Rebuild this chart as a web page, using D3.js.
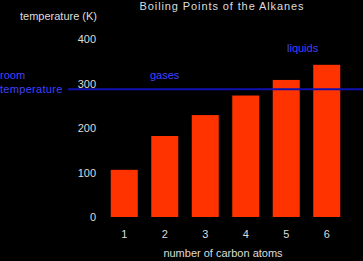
<!DOCTYPE html>
<html>
<head>
<meta charset="utf-8">
<script src="https://cdn.jsdelivr.net/npm/d3@7"></script>
<style>
  body { margin: 0; background: #000; }
  svg { display: block; }
  text { font-family: "Liberation Sans", Arial, sans-serif; font-size: 11px; }
</style>
</head>
<body>
<div id="chart"></div>
<script>
// -----------------------
// Data
// -----------------------
const carbons = ["1", "2", "3", "4", "5", "6"];
const boilingK = [106, 182, 229, 273, 308, 342];
const yTicks = [0, 100, 200, 300, 400];
const roomTemp = 287;

const width = 363;
const height = 261;

const svg = d3.select("#chart")
  .append("svg")
  .attr("width", width)
  .attr("height", height)
  .style("background", "#000");

const x = d3.scaleBand()
  .domain(carbons)
  .range([104, 347])
  .paddingInner(0.333)
  .paddingOuter(0.167);

const y = d3.scaleLinear()
  .domain([0, 400])
  .range([217, 39]);

// Bars
svg.selectAll(".bar")
  .data(carbons)
  .join("rect")
  .attr("class", "bar")
  .attr("x", d => x(d))
  .attr("width", x.bandwidth())
  .attr("y", (d, i) => y(boilingK[i]))
  .attr("height", (d, i) => y(0) - y(boilingK[i]))
  .attr("fill", "#ff3300");

// Y axis (labels only)
const yAxis = svg.append("g")
  .attr("transform", "translate(100,0)")
  .call(d3.axisLeft(y).tickValues(yTicks).tickSize(0).tickPadding(4));
yAxis.select(".domain").remove();
yAxis.selectAll("text")
  .attr("fill", "#ddd")
  .style("font-size", "11px")
  .style("font-family", "Liberation Sans, Arial, sans-serif");

// X axis (labels only)
const xAxis = svg.append("g")
  .attr("transform", "translate(0,228)")
  .call(d3.axisBottom(x).tickSize(0).tickPadding(2));
xAxis.select(".domain").remove();
xAxis.selectAll("text")
  .attr("fill", "#ddd")
  .style("font-size", "11px")
  .style("font-family", "Liberation Sans, Arial, sans-serif");

// Room temperature line
svg.append("line")
  .attr("x1", 68)
  .attr("x2", width)
  .attr("y1", y(roomTemp))
  .attr("y2", y(roomTemp))
  .attr("stroke", "#1010b0")
  .attr("stroke-width", 2);

svg.append("text")
  .attr("x", 0)
  .attr("y", 79)
  .attr("fill", "#4040ff")
  .text("room");
svg.append("text")
  .attr("x", 0)
  .attr("y", 93)
  .attr("fill", "#4040ff")
  .style("letter-spacing", "0.3px")
  .text("temperature");

svg.append("text")
  .attr("x", 150)
  .attr("y", 79)
  .attr("fill", "#4040ff")
  .text("gases");
svg.append("text")
  .attr("x", 287)
  .attr("y", 52)
  .attr("fill", "#4040ff")
  .text("liquids");

// Titles
svg.append("text")
  .attr("x", 222)
  .attr("y", 10)
  .attr("text-anchor", "middle")
  .attr("fill", "#ddd")
  .style("letter-spacing", "0.9px")
  .text("Boiling Points of the Alkanes");

svg.append("text")
  .attr("x", 97)
  .attr("y", 20)
  .attr("text-anchor", "end")
  .attr("fill", "#ddd")
  .text("temperature (K)");

svg.append("text")
  .attr("x", 223)
  .attr("y", 257)
  .attr("text-anchor", "middle")
  .attr("fill", "#ddd")
  .text("number of carbon atoms");
</script>
</body>
</html>
